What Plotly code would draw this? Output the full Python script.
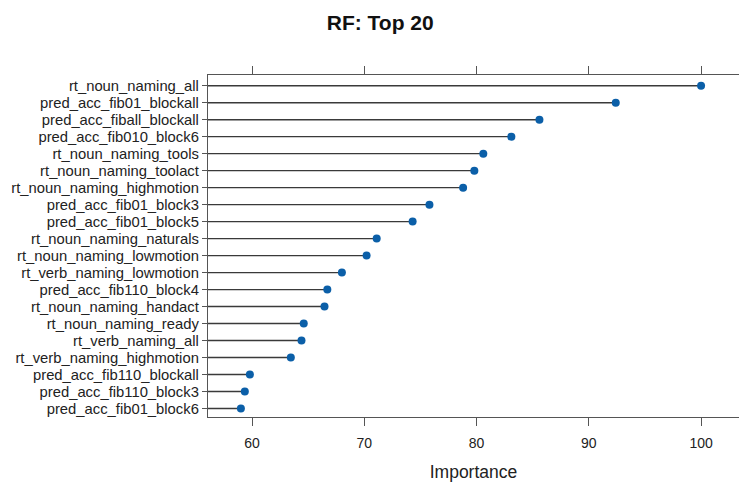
import plotly.graph_objects as go

# Variable importance (random forest), top 20, listed from most to least important
features = [
    "rt_noun_naming_all",
    "pred_acc_fib01_blockall",
    "pred_acc_fiball_blockall",
    "pred_acc_fib010_block6",
    "rt_noun_naming_tools",
    "rt_noun_naming_toolact",
    "rt_noun_naming_highmotion",
    "pred_acc_fib01_block3",
    "pred_acc_fib01_block5",
    "rt_noun_naming_naturals",
    "rt_noun_naming_lowmotion",
    "rt_verb_naming_lowmotion",
    "pred_acc_fib110_block4",
    "rt_noun_naming_handact",
    "rt_noun_naming_ready",
    "rt_verb_naming_all",
    "rt_verb_naming_highmotion",
    "pred_acc_fib110_blockall",
    "pred_acc_fib110_block3",
    "pred_acc_fib01_block6",
]
importance = [
    100.0, 92.4, 85.6, 83.1, 80.6, 79.8, 78.8, 75.8, 74.3, 71.1,
    70.2, 68.0, 66.7, 66.45, 64.6, 64.4, 63.45, 59.8, 59.35, 59.0,
]
x_ticks = [60, 70, 80, 90, 100]

x_min, x_max = 56.07, 103.38
rows = list(range(len(features)))

# Stems running from the left edge of the panel to each point
stem_x, stem_y = [], []
for r, v in zip(rows, importance):
    stem_x += [x_min, v, None]
    stem_y += [r, r, None]

fig = go.Figure()
fig.add_trace(go.Scatter(
    x=stem_x, y=stem_y, mode="lines",
    line=dict(color="#3a3a3a", width=1.4),
    hoverinfo="skip", showlegend=False,
))
fig.add_trace(go.Scatter(
    x=importance, y=rows, mode="markers",
    marker=dict(color="#0b5fa8", size=8),
    showlegend=False,
))

fig.update_layout(
    width=739, height=482,
    margin=dict(l=208, r=0, t=75, b=65),
    paper_bgcolor="white", plot_bgcolor="white",
    font=dict(family="Liberation Sans, Arial, sans-serif", color="#1a1a1a"),
    title=dict(
        text="<b>RF: Top 20</b>", x=0.5145, xanchor="center",
        y=1 - 23 / 482, yanchor="middle",
        font=dict(size=21, color="#111111"),
    ),
    xaxis=dict(
        range=[x_min, x_max], tickvals=x_ticks,
        showgrid=False, zeroline=False,
        showline=True, linecolor="#555555", linewidth=1.3, mirror="ticks",
        ticks="outside", ticklen=8, tickwidth=1.3, tickcolor="#555555",
        ticklabelstandoff=5,
        tickfont=dict(size=14, color="#222222"),
        title=dict(text="Importance", font=dict(size=17.5, color="#222222"), standoff=16),
    ),
    yaxis=dict(
        range=[19.5, -0.63], tickvals=rows, ticktext=features,
        showgrid=False, zeroline=False,
        showline=True, linecolor="#555555", linewidth=1.3,
        ticks="outside", ticklen=5, tickwidth=1.2, tickcolor="#555555",
        tickfont=dict(size=14.8, color="#222222"),
    ),
)

fig.write_html("out.html")
